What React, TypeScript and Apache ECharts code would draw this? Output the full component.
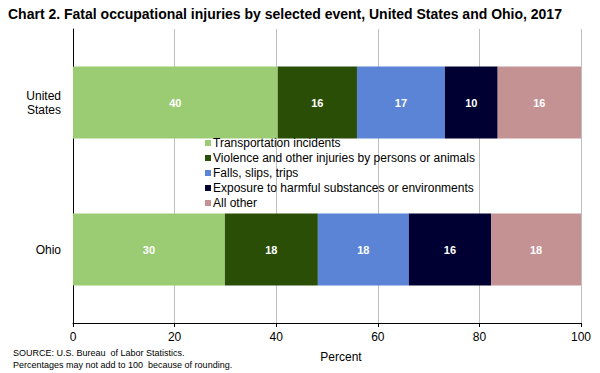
import React, { useEffect, useRef } from "react";
import * as echarts from "echarts";

const categories = ["United\nStates", "Ohio"];
const seriesNames = [
  "Transportation incidents",
  "Violence and other injuries by persons or animals",
  "Falls, slips, trips",
  "Exposure to harmful substances or environments",
  "All other",
];
const transportation = [40.3, 29.9];
const violence = [15.6, 18.3];
const falls = [17.3, 17.9];
const exposure = [10.4, 16.2];
const allOther = [16.4, 17.7];
const colors = ["#9BCB73", "#2A4E06", "#5B84D6", "#000033", "#C49292"];
const xTicks = [0, 20, 40, 60, 80, 100];

export default function App() {
  const ref = useRef<HTMLDivElement>(null);
  useEffect(() => {
    if (!ref.current) return;
    const chart = echarts.init(ref.current, null, { renderer: "svg" });
    const values = [transportation, violence, falls, exposure, allOther];
    const font = "Arial, 'Liberation Sans', sans-serif";
    chart.setOption({
      animation: false,
      textStyle: { fontFamily: font },
      grid: { left: 73, right: 19, top: 29, bottom: 50, containLabel: false },
      legend: {
        orient: "vertical",
        left: 200,
        top: 131,
        itemWidth: 6,
        itemHeight: 6,
        itemGap: 1,
        icon: "rect",
        data: seriesNames,
        textStyle: { fontSize: 12, color: "#000", fontFamily: font, padding: [0, 0, 0, -3], lineHeight: 14 },
      },
      xAxis: {
        type: "value",
        min: 0,
        max: 100,
        interval: 20,
        axisLine: { show: true, lineStyle: { color: "#000", width: 1 } },
        axisTick: { show: true, length: 4, lineStyle: { color: "#000" } },
        axisLabel: { fontSize: 12, color: "#000", margin: 8, fontFamily: font,
          formatter: (v: number) => (xTicks.includes(v) ? String(v) : "") },
        splitLine: { show: true, lineStyle: { color: "#BFBFBF", width: 1 } },
      },
      yAxis: {
        type: "category",
        data: categories,
        inverse: true,
        axisLine: { show: true, lineStyle: { color: "#000", width: 1 } },
        axisTick: { show: false },
        axisLabel: { fontSize: 12, color: "#000", margin: 12, lineHeight: 14, align: "right", fontFamily: font },
      },
      series: seriesNames.map((name, i) => ({
        name,
        type: "bar",
        stack: "total",
        barWidth: 72,
        data: values[i],
        itemStyle: { color: colors[i] },
        label: {
          show: true,
          position: "inside",
          color: "#fff",
          fontWeight: "bold",
          fontSize: 11,
          fontFamily: font,
          formatter: (p: any) => String(Math.round(p.value)),
        },
      })),
      graphic: [
        {
          type: "text",
          x: 8,
          y: 14,
          style: {
            text: "Chart 2. Fatal occupational injuries by selected event, United States and Ohio, 2017",
            font: `bold 14px ${font}`,
            fill: "#000",
            verticalAlign: "middle",
          },
        },
        {
          type: "text",
          x: 341,
          y: 357,
          style: { text: "Percent", font: `12px ${font}`, fill: "#000", align: "center", verticalAlign: "middle" },
        },
        {
          type: "text",
          x: 13,
          y: 353,
          style: { text: "SOURCE: U.S. Bureau  of Labor Statistics.", font: `9px ${font}`, fill: "#000", verticalAlign: "middle" },
        },
        {
          type: "text",
          x: 13,
          y: 365,
          style: { text: "Percentages may not add to 100  because of rounding.", font: `9px ${font}`, fill: "#000", verticalAlign: "middle" },
        },
      ],
    });
    return () => chart.dispose();
  }, []);
  return <div ref={ref} style={{ position: "absolute", left: 0, top: 0, width: 600, height: 373 }} />;
}
